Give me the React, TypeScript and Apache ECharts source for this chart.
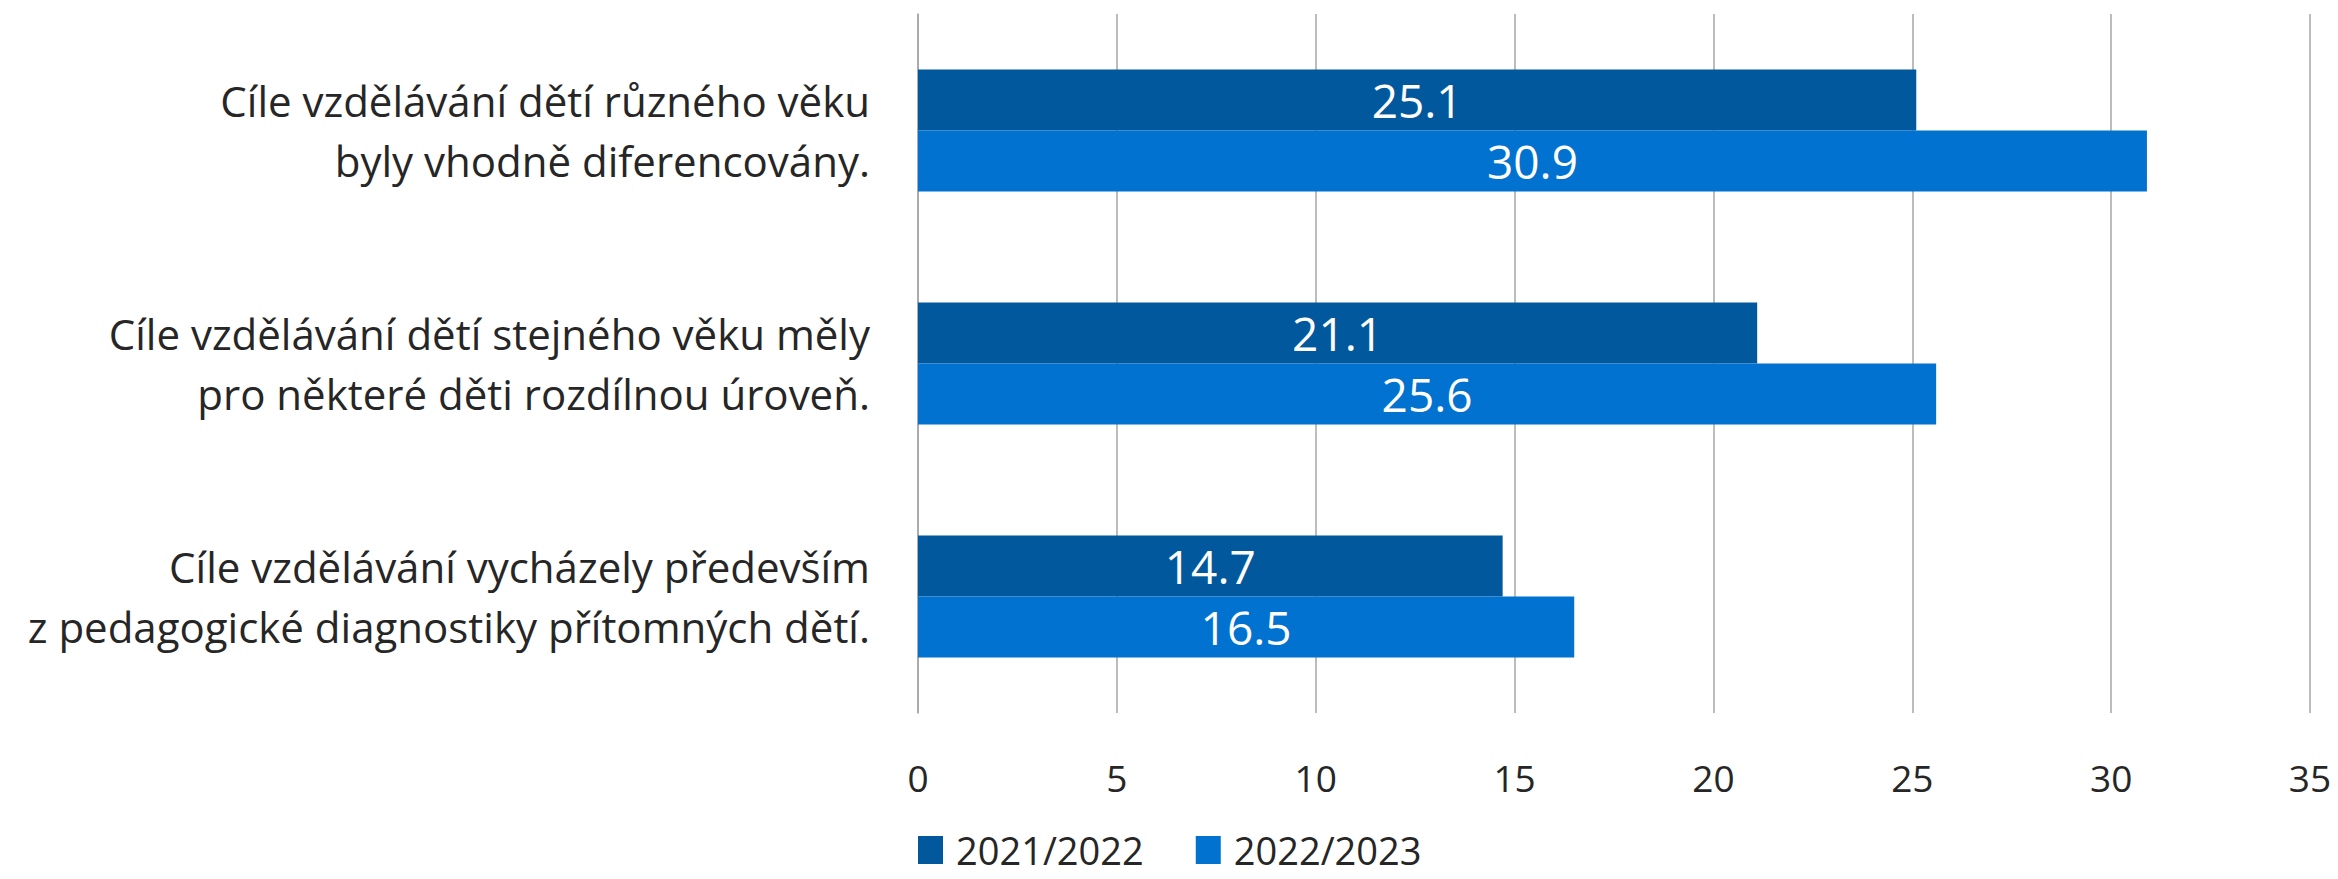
import React, { useEffect, useRef } from "react";
import * as echarts from "echarts";

const categories = [
  "Cíle vzdělávání dětí různého věku\nbyly vhodně diferencovány.",
  "Cíle vzdělávání dětí stejného věku měly\npro některé děti rozdílnou úroveň.",
  "Cíle vzdělávání vycházely především\nz pedagogické diagnostiky přítomných dětí.",
];
const series2122 = [25.1, 21.1, 14.7];
const series2223 = [30.9, 25.6, 16.5];
const seriesNames = ["2021/2022", "2022/2023"];
const xMin = 0;
const xMax = 35;
const xInterval = 5;

const FONT = "'Open Sans', 'Noto Sans', sans-serif";

export default function App() {
  const ref = useRef<HTMLDivElement>(null);
  useEffect(() => {
    if (!ref.current) return;
    const chart = echarts.init(ref.current, undefined, { renderer: "svg" });
    chart.setOption({
      animation: false,
      textStyle: { fontFamily: FONT },
      grid: { left: 918, right: 28, top: 14, bottom: 166, containLabel: false },
      legend: {
        left: 918,
        top: 831,
        padding: 0,
        itemWidth: 25,
        itemHeight: 28,
        itemGap: 52,
        icon: "rect",
        textStyle: {
          fontSize: 38,
          lineHeight: 36,
          color: "#262626",
          fontFamily: FONT,
          padding: [0, 0, 0, 8],
        },
        data: seriesNames,
      },
      xAxis: {
        type: "value",
        min: xMin,
        max: xMax,
        interval: xInterval,
        axisLine: { show: false },
        axisTick: { show: false },
        splitLine: { show: true, lineStyle: { color: "#a6a6a6", width: 1.5 } },
        axisLabel: { fontSize: 37, color: "#262626", margin: 46, fontFamily: FONT },
      },
      yAxis: {
        type: "category",
        inverse: true,
        data: categories,
        axisLine: { show: true, lineStyle: { color: "#a6a6a6", width: 1.5 } },
        axisTick: { show: false },
        axisLabel: {
          fontSize: 42,
          color: "#262626",
          margin: 48,
          lineHeight: 60,
          align: "right",
          fontFamily: FONT,
        },
      },
      series: [
        {
          name: seriesNames[0],
          type: "bar",
          data: series2122,
          barWidth: 61,
          barGap: "0%",
          itemStyle: { color: "#02589c" },
          label: {
            show: true,
            position: "inside",
            color: "#ffffff",
            fontSize: 46,
            fontFamily: FONT,
          },
        },
        {
          name: seriesNames[1],
          type: "bar",
          data: series2223,
          barWidth: 61,
          barGap: "0%",
          itemStyle: { color: "#0172cf" },
          label: {
            show: true,
            position: "inside",
            color: "#ffffff",
            fontSize: 46,
            fontFamily: FONT,
          },
        },
      ],
    });
    return () => chart.dispose();
  }, []);
  return (
    <div
      ref={ref}
      style={{ position: "fixed", left: 0, top: 0, width: 2338, height: 879, background: "#ffffff" }}
    />
  );
}
